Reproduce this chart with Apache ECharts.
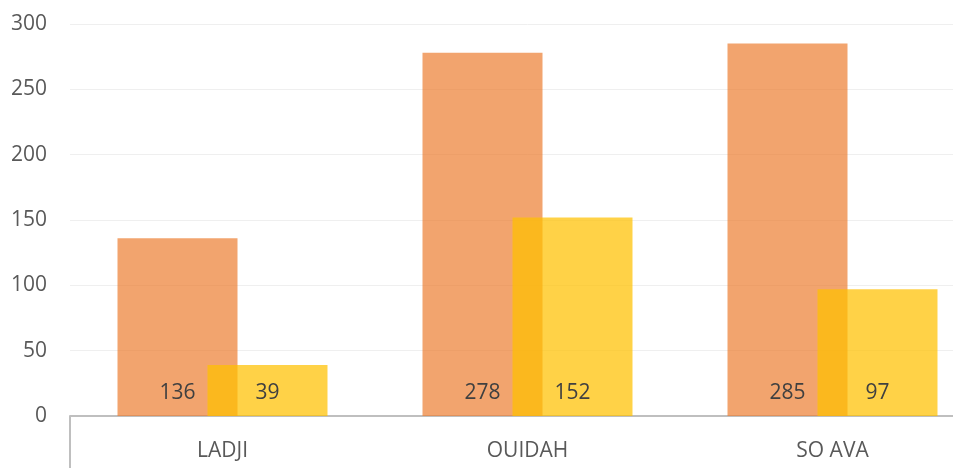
<!DOCTYPE html>
<html>
<head>
<meta charset="utf-8">
<script src="https://cdn.jsdelivr.net/npm/echarts@6/dist/echarts.min.js"></script>
<style>
  html, body { margin: 0; padding: 0; background: #fff; overflow: hidden; }
  /* le graphique dépasse à droite de la fenêtre, comme dans l'original */
  #chart { width: 985px; height: 468px; }
</style>
</head>
<body>
<div id="chart"></div>
<script>
// communes (categories)
const communes = ["LADJI", "OUIDAH", "SO AVA"];
// orange series
const serie1 = [136, 278, 285];
// yellow series
const serie2 = [39, 152, 97];
// y axis ticks
const yMin = 0, yMax = 300, yStep = 50;

const chart = echarts.init(document.getElementById("chart"));

const labelStyle = {
  show: true,
  position: "insideBottom",
  distance: 12,
  color: "#404040",
  fontSize: 21,
  fontFamily: "Open Sans"
};

chart.setOption({
  animation: false,
  grid: { left: 70, top: 24, right: 0, bottom: 52 },
  xAxis: {
    type: "category",
    data: communes,
    axisLine: { lineStyle: { color: "#bfbfbf", width: 2 } },
    axisTick: {
      show: true,
      interval: function (i) { return i === 0; },
      length: 52,
      lineStyle: { color: "#bfbfbf", width: 2 }
    },
    axisLabel: { color: "#595959", fontSize: 21, fontFamily: "Open Sans", margin: 25 }
  },
  yAxis: {
    type: "value",
    min: yMin,
    max: yMax,
    interval: yStep,
    axisLine: { show: false },
    axisTick: { show: false },
    axisLabel: { color: "#595959", fontSize: 21, fontFamily: "Open Sans", margin: 23, padding: [3, 0, 0, 0] },
    splitLine: { lineStyle: { color: "#efefef", width: 1 } }
  },
  series: [
    {
      name: "Série 1",
      type: "bar",
      data: serie1,
      barWidth: 120,
      barGap: "-25%",
      itemStyle: { color: "rgba(237,125,49,0.7)" },
      label: labelStyle
    },
    {
      name: "Série 2",
      type: "bar",
      data: serie2,
      barWidth: 120,
      itemStyle: { color: "rgba(255,192,0,0.72)" },
      label: labelStyle
    }
  ]
});
</script>
</body>
</html>
